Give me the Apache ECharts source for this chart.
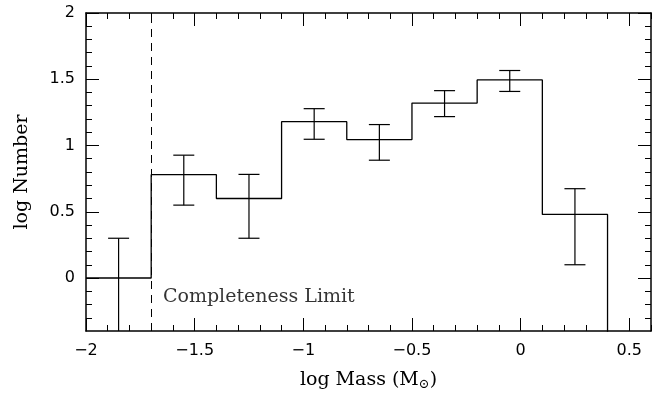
<!DOCTYPE html>
<html>
<head>
<meta charset="utf-8">
<script src="https://cdn.jsdelivr.net/npm/echarts@6/dist/echarts.min.js"></script>
<style>
  html, body { margin: 0; padding: 0; background: #fff; }
  #main { width: 671px; height: 396px; }
</style>
</head>
<body>
<div id="main"></div>
<script>
// bin left edges and histogram heights (log Number)
const binEdges = [-2, -1.7, -1.4, -1.1, -0.8, -0.5, -0.2, 0.1, 0.4];
const binValues = [0, 0.78, 0.6, 1.18, 1.045, 1.32, 1.495, 0.48];

// error bars at bin centres
const errX = [-1.85, -1.55, -1.25, -0.95, -0.65, -0.35, -0.05, 0.25];
const errLow = [-1, 0.55, 0.3, 1.047, 0.889, 1.218, 1.408, 0.10];
const errHigh = [0.30, 0.927, 0.782, 1.278, 1.158, 1.414, 1.566, 0.674];

const limitX = -1.7;

const xMajor = [-2, -1.5, -1, -0.5, 0, 0.5];
const yMajor = [0, 0.5, 1, 1.5, 2];
const xMinor = [];
for (let k = -19; k <= 6; k++) if (k % 5 !== 0) xMinor.push(k / 10);
const yMinor = [];
for (let k = -3; k <= 19; k++) if (k % 5 !== 0) yMinor.push(k / 10);

const xRange = { min: -2, max: 0.6 };
const yRange = { min: -0.4, max: 2 };

const serif = 'DejaVu Serif';
const sans = 'DejaVu Sans';
const fmt = v => String(v).replace('-', '\u2212');

// step path: one point per left edge, last edge drops off the bottom
const stepData = binValues.map((v, i) => [binEdges[i], v]);
stepData.push([binEdges[binEdges.length - 1], -1]);

function axisSet(dim, pos, values, len, withLine, withLabel, extra) {
  const r = dim === 'x' ? xRange : yRange;
  return Object.assign({
    type: 'value', position: pos, offset: 0,
    min: r.min, max: r.max,
    splitLine: { show: false },
    axisLine: { show: withLine, onZero: false, lineStyle: { color: '#000', width: 1.5 } },
    axisTick: { show: true, inside: true, length: len, customValues: values,
                lineStyle: { color: '#000', width: 1 } },
    axisLabel: withLabel
      ? { show: true, customValues: values, formatter: fmt, color: '#000',
          fontFamily: sans, fontSize: 16, margin: dim === 'x' ? 12 : 11 }
      : { show: false }
  }, extra || {});
}

const option = {
  animation: false,
  grid: { left: 86, top: 13, right: 20, bottom: 63 },
  xAxis: [
    axisSet('x', 'bottom', xMajor, 13, true, true, {
      name: 'log Mass (M{s|\u2299})', nameLocation: 'middle', nameGap: 38,
      nameTextStyle: { color: '#000', fontFamily: serif, fontSize: 19,
        rich: { s: { fontFamily: serif, fontSize: 13, verticalAlign: 'bottom', padding: [9, 0, 0, 0] } } }
    }),
    axisSet('x', 'bottom', xMinor, 6, false, false),
    axisSet('x', 'top', xMajor, 13, true, false),
    axisSet('x', 'top', xMinor, 6, false, false)
  ],
  yAxis: [
    axisSet('y', 'left', yMajor, 13, true, true, {
      name: 'log Number', nameLocation: 'middle', nameGap: 54, nameRotate: 90,
      nameTextStyle: { color: '#000', fontFamily: serif, fontSize: 19 }
    }),
    axisSet('y', 'left', yMinor, 6, false, false),
    axisSet('y', 'right', yMajor, 13, true, false),
    axisSet('y', 'right', yMinor, 6, false, false)
  ],
  series: [
    {
      type: 'line',
      step: 'end',
      data: stepData,
      symbol: 'none',
      clip: true,
      lineStyle: { color: '#000', width: 1.3 },
      markLine: {
        silent: true,
        symbol: 'none',
        label: { show: false },
        lineStyle: { color: '#000', type: [8, 6], width: 1 },
        data: [{ xAxis: limitX }]
      }
    },
    {
      type: 'custom',
      clip: true,
      data: errX.map((x, i) => [x, errLow[i], errHigh[i]]),
      renderItem: function (params, api) {
        const x = api.value(0);
        const pHi = api.coord([x, api.value(2)]);
        const pLo = api.coord([x, api.value(1)]);
        const w = 10.5;
        const st = { stroke: '#000', lineWidth: 1.2 };
        return {
          type: 'group',
          children: [
            { type: 'line', shape: { x1: pHi[0], y1: pHi[1], x2: pLo[0], y2: pLo[1] }, style: st },
            { type: 'line', shape: { x1: pHi[0] - w, y1: pHi[1], x2: pHi[0] + w, y2: pHi[1] }, style: st },
            { type: 'line', shape: { x1: pLo[0] - w, y1: pLo[1], x2: pLo[0] + w, y2: pLo[1] }, style: st }
          ]
        };
      }
    },
    {
      type: 'scatter',
      symbolSize: 0,
      data: [[-1.646, -0.143]],
      label: {
        show: true, position: 'right', distance: 0,
        formatter: 'Completeness Limit',
        color: '#000', fontFamily: serif, fontSize: 19
      }
    }
  ]
};

const chart = echarts.init(document.getElementById('main'), null, { renderer: 'canvas' });
chart.setOption(option);
</script>
</body>
</html>
